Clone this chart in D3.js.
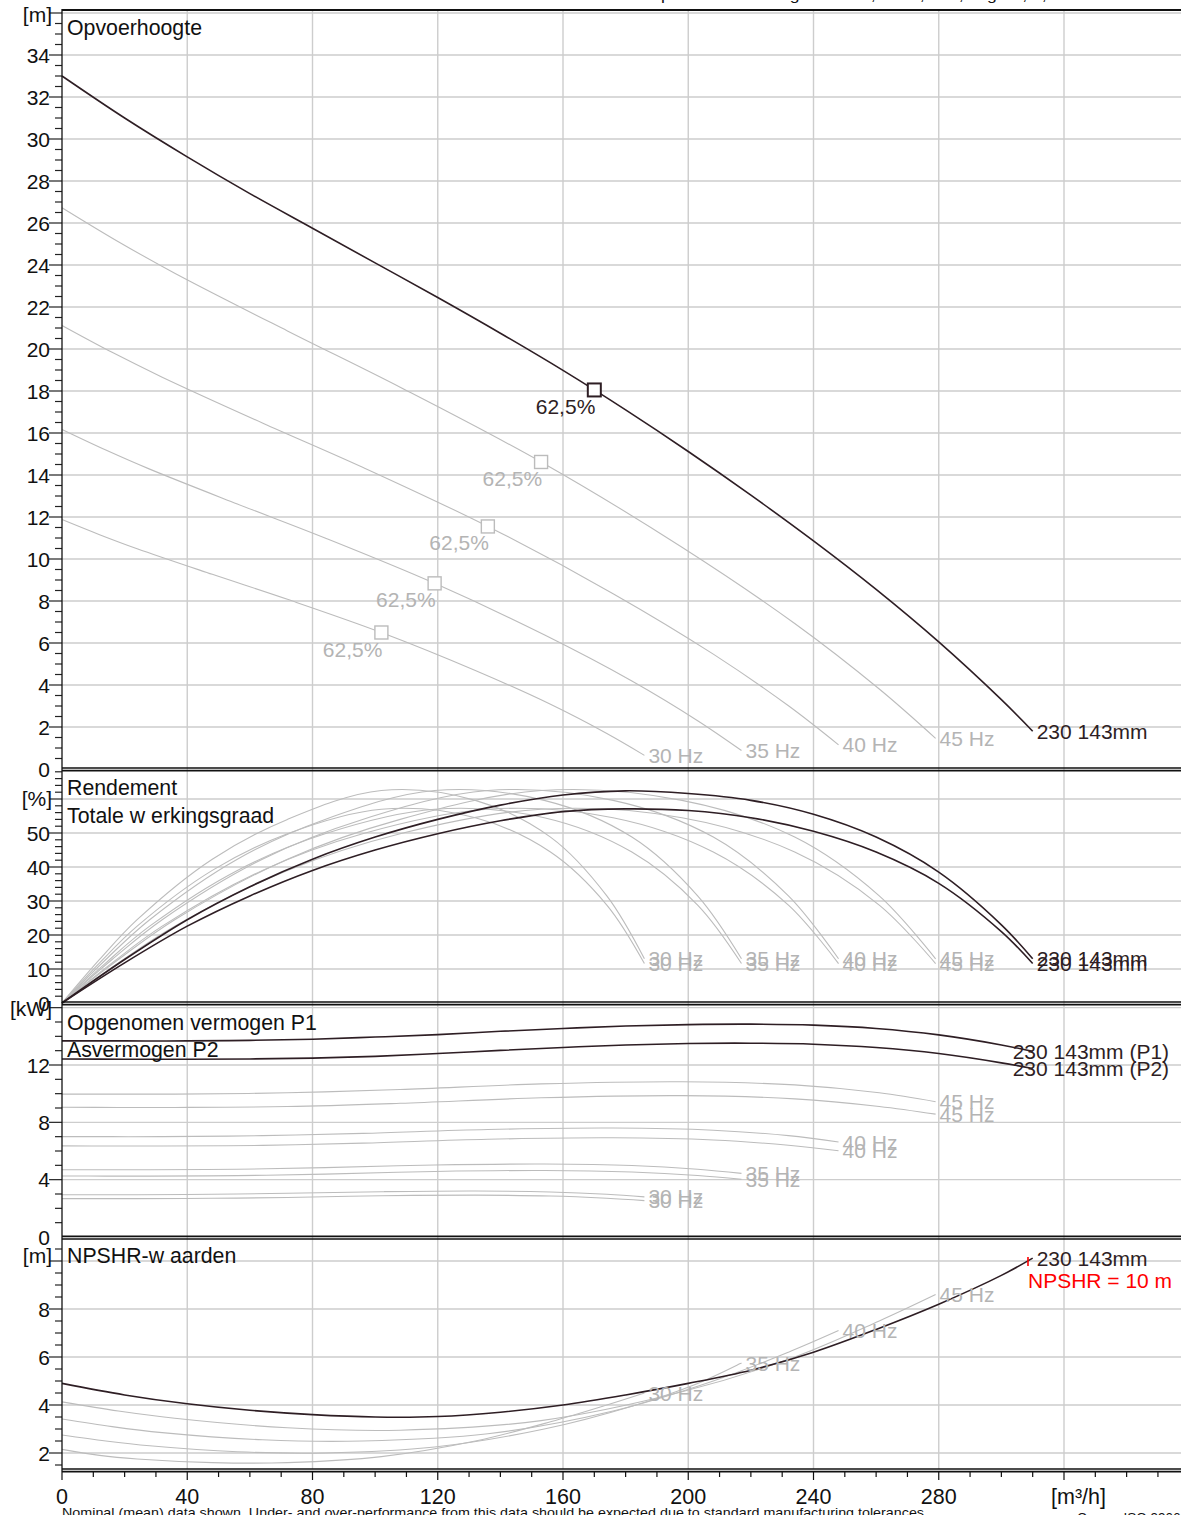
<!DOCTYPE html>
<html><head><meta charset="utf-8">
<script src="https://cdn.jsdelivr.net/npm/d3@7"></script>
<style>
body{margin:0;background:#fff}
svg{display:block}
text{font-family:"Liberation Sans",Arial,Helvetica,sans-serif}
</style>
</head><body>
<svg id="c" width="1181" height="1515"></svg>
<script>
// ---------------- DATA ----------------
const xTickLabels = [0, 40, 80, 120, 160, 200, 240, 280];
const xUnit = "[m³/h]";

// main curve "230 143mm" (50 Hz)
const qMain    = [0, 20, 40, 60, 80, 100, 120, 140, 160, 180, 200, 220, 240, 260, 280, 300, 310];
const headMain = [33.0, 31.0, 29.15, 27.4, 25.75, 24.1, 22.45, 20.75, 18.98, 17.1, 15.12, 13.04, 10.86, 8.55, 6.05, 3.3, 1.8];
const effMain  = [0, 12.8, 24.5, 34.2, 42.3, 48.8, 54.0, 58.2, 61.2, 62.4, 61.6, 59.6, 55.5, 48.8, 38.5, 23.0, 13.0];
const totMain  = [0, 11.8, 22.6, 31.5, 39.0, 45.0, 49.8, 53.6, 56.3, 57.1, 56.6, 54.5, 50.5, 44.4, 35.2, 21.0, 11.6];
const p1Main   = [13.68, 13.68, 13.68, 13.72, 13.8, 13.95, 14.12, 14.35, 14.55, 14.72, 14.82, 14.85, 14.78, 14.55, 14.1, 13.4, 12.95];
const p2Main   = [12.42, 12.4, 12.4, 12.42, 12.48, 12.6, 12.8, 13.02, 13.22, 13.4, 13.5, 13.52, 13.45, 13.22, 12.8, 12.15, 11.75];
const npshMain = [4.9, 4.42, 4.05, 3.78, 3.6, 3.5, 3.52, 3.7, 4.0, 4.42, 4.9, 5.45, 6.2, 7.15, 8.2, 9.4, 10.12];
const bepMain  = [170, 18.05];
const npshrMark = [308.5, 10];

// reduced speed curves
const speedLabels = ["45 Hz", "40 Hz", "35 Hz", "30 Hz"];
const q45 = [0, 18, 36, 72, 108, 153, 198, 234, 261, 279];
const q40 = [0, 16, 32, 64, 96, 136, 176, 208, 232, 248];
const q35 = [0, 14, 28, 56, 84, 119, 154, 182, 203, 217];
const q30 = [0, 12, 24, 48, 72, 102, 132, 156, 174, 186];

const head45 = [26.73, 25.11, 23.61, 20.86, 18.18, 14.62, 10.56, 6.93, 3.81, 1.46];
const head40 = [21.12, 19.84, 18.66, 16.48, 14.37, 11.55, 8.35, 5.47, 3.01, 1.15];
const head35 = [16.17, 15.19, 14.28, 12.62, 11.00, 8.84, 6.39, 4.19, 2.30, 0.88];
const head30 = [11.88, 11.16, 10.49, 9.27, 8.08, 6.50, 4.69, 3.08, 1.69, 0.65];

const eff45 = [0, 12.8, 24.5, 42.3, 54.0, 62.5, 59.6, 48.8, 31.5, 13.0];
const eff40 = [0, 12.8, 24.5, 42.3, 54.0, 62.5, 59.6, 48.8, 31.5, 13.0];
const eff35 = [0, 12.8, 24.5, 42.3, 54.0, 62.5, 59.6, 48.8, 31.5, 13.0];
const eff30 = [0, 12.8, 24.5, 42.3, 54.0, 62.5, 59.6, 48.8, 31.5, 13.0];

const tot45 = [0, 11.8, 22.6, 39.0, 49.8, 57.0, 54.5, 44.4, 28.8, 11.6];
const tot40 = [0, 11.8, 22.6, 39.0, 49.8, 57.0, 54.5, 44.4, 28.8, 11.6];
const tot35 = [0, 11.8, 22.6, 39.0, 49.8, 57.0, 54.5, 44.4, 28.8, 11.6];
const tot30 = [0, 11.8, 22.6, 39.0, 49.8, 57.0, 54.5, 44.4, 28.8, 11.6];

const p1_45 = [9.97, 9.97, 9.97, 10.06, 10.29, 10.68, 10.83, 10.61, 10.06, 9.44];
const p1_40 = [7.00, 7.00, 7.00, 7.07, 7.23, 7.50, 7.60, 7.45, 7.07, 6.63];
const p1_35 = [4.69, 4.69, 4.69, 4.73, 4.84, 5.02, 5.09, 4.99, 4.73, 4.44];
const p1_30 = [2.95, 2.95, 2.95, 2.98, 3.05, 3.16, 3.21, 3.14, 2.98, 2.80];

const p2_45 = [9.05, 9.04, 9.04, 9.10, 9.33, 9.71, 9.86, 9.64, 9.11, 8.57];
const p2_40 = [6.36, 6.35, 6.35, 6.39, 6.55, 6.82, 6.92, 6.77, 6.40, 6.02];
const p2_35 = [4.26, 4.25, 4.25, 4.28, 4.39, 4.57, 4.64, 4.53, 4.29, 4.03];
const p2_30 = [2.68, 2.68, 2.68, 2.70, 2.76, 2.88, 2.92, 2.86, 2.70, 2.54];

const npsh45 = [4.13, 3.75, 3.45, 3.05, 2.95, 3.35, 4.55, 6.0, 7.5, 8.6];
const npsh40 = [3.42, 3.1, 2.85, 2.55, 2.5, 2.8, 3.75, 5.0, 6.2, 7.1];
const npsh35 = [2.75, 2.5, 2.3, 2.05, 2.0, 2.25, 3.0, 3.95, 4.9, 5.75];
const npsh30 = [2.15, 1.9, 1.75, 1.6, 1.6, 1.85, 2.5, 3.3, 4.0, 4.5];

const bep45 = [153, 14.62], bep40 = [136, 11.55], bep35 = [119, 8.84], bep30 = [102, 6.50];

const headTicks = d3.range(0, 35, 2);
const effTicks  = [0, 10, 20, 30, 40, 50];
const powTicks  = [0, 4, 8, 12];
const npshTicks = [2, 4, 6, 8];

// table built from the arrays
const speeds = [
  {label: speedLabels[0], q: q45, head: head45, eff: eff45, tot: tot45, p1: p1_45, p2: p2_45, npsh: npsh45, bep: bep45},
  {label: speedLabels[1], q: q40, head: head40, eff: eff40, tot: tot40, p1: p1_40, p2: p2_40, npsh: npsh40, bep: bep40},
  {label: speedLabels[2], q: q35, head: head35, eff: eff35, tot: tot35, p1: p1_35, p2: p2_35, npsh: npsh35, bep: bep35},
  {label: speedLabels[3], q: q30, head: head30, eff: eff30, tot: tot30, p1: p1_30, p2: p2_30, npsh: npsh30, bep: bep30}
];

// ---------------- LAYOUT ----------------
const W = 1181;
const DARK = "#2e1e24", GRAY = "#bcbcbc", GTEXT = "#b4b4b4", GRID = "#cdcdcd";
const FS = 21;
const svg = d3.select("#c");
const x = d3.scaleLinear().domain([0, 320]).range([62, 1064]);

const panels = [
  {key: "head", y: d3.scaleLinear().domain([0, 34]).range([769, 55]), top: 10, bot: 768, major: 2, minor: 0.5, ticks: headTicks, unit: "[m]", unitY: 22},
  {key: "eff",  y: d3.scaleLinear().domain([0, 50]).range([1003, 833]), top: 770.7, bot: 1002, major: 10, minor: 2, ticks: effTicks, unit: "[%]", unitY: 806},
  {key: "pow",  y: d3.scaleLinear().domain([0, 12]).range([1237, 1065]), top: 1004.7, bot: 1236.3, major: 4, minor: 1, ticks: powTicks, unit: "[kW]", unitY: 1016},
  {key: "npsh", y: d3.scaleLinear().domain([2, 8]).range([1453, 1309]), top: 1239, bot: 1469, major: 2, minor: 0.5, ticks: npshTicks, unit: "[m]", unitY: 1263}
];

const gGrid = svg.append("g");
const gCurves = svg.append("g");
const gFrame = svg.append("g");
const gText = svg.append("g");

// vertical grid
gGrid.selectAll("line.v").data(d3.range(40, 361, 40)).join("line")
  .attr("x1", d => x(d)).attr("x2", d => x(d)).attr("y1", 10).attr("y2", 1469)
  .attr("stroke", GRID).attr("stroke-width", 1.4);

panels.forEach(p => {
  const lo = p.y.invert(p.bot), hi = p.y.invert(p.top);
  const majors = d3.range(Math.ceil(lo / p.major) * p.major, hi + 1e-6, p.major).filter(v => p.y(v) > p.top + 1.5 && p.y(v) < p.bot - 1.5);
  gGrid.selectAll(null).data(majors).join("line")
    .attr("x1", 62).attr("x2", W).attr("y1", d => p.y(d)).attr("y2", d => p.y(d))
    .attr("stroke", GRID).attr("stroke-width", 1.4);
  const minors = d3.range(Math.ceil(lo / p.minor) * p.minor, hi + 1e-6, p.minor).filter(v => p.y(v) >= p.top - 0.5 && p.y(v) <= p.bot + 1);
  gFrame.selectAll(null).data(minors).join("line")
    .attr("x1", d => (Math.abs(d / p.major - Math.round(d / p.major)) < 1e-6) ? 49 : 55).attr("x2", 62)
    .attr("y1", d => p.y(d)).attr("y2", d => p.y(d))
    .attr("stroke", "#222").attr("stroke-width", 1.2);
  gText.selectAll(null).data(p.ticks).join("text")
    .attr("x", 50).attr("y", d => p.y(d)).attr("dy", "0.36em")
    .attr("text-anchor", "end").attr("font-size", FS).attr("fill", "#111").text(d => d);
  gText.append("text").attr("x", 52).attr("y", p.unitY).attr("text-anchor", "end")
    .attr("font-size", FS).attr("fill", "#111").text(p.unit);
});

// panel borders
[10, 768, 770.7, 1002, 1004.7, 1236.3, 1239, 1469, 1471.7].forEach((yy, i) => {
  gFrame.append("line").attr("x1", 62).attr("x2", W).attr("y1", yy).attr("y2", yy)
    .attr("stroke", "#111").attr("stroke-width", i === 0 ? 2.2 : 1.7);
});
gFrame.append("line").attr("x1", 62).attr("x2", 62).attr("y1", 9).attr("y2", 1472)
  .attr("stroke", "#111").attr("stroke-width", 1.3);

// x axis ticks
gFrame.selectAll("line.xt").data(d3.range(0, 360, 10)).join("line")
  .attr("x1", d => x(d)).attr("x2", d => x(d)).attr("y1", 1472).attr("y2", d => d % 40 === 0 ? 1480 : 1477)
  .attr("stroke", "#111").attr("stroke-width", 1.2);
gText.selectAll("text.xl").data(xTickLabels).join("text")
  .attr("x", d => x(d)).attr("y", 1504).attr("text-anchor", "middle")
  .attr("font-size", FS + 0.5).attr("fill", "#111").text(d => d);
gText.append("text").attr("x", 1051).attr("y", 1504).attr("font-size", FS + 0.5).attr("fill", "#111").text(xUnit);

// ---------------- CURVES ----------------
function path(q, v, ys) {
  return d3.line().x((d, i) => x(q[i])).y(d => ys(d)).curve(d3.curveCatmullRom.alpha(0.5))(v);
}
function drawCurve(q, v, ys, color, w) {
  gCurves.append("path").attr("d", path(q, v, ys)).attr("fill", "none")
    .attr("stroke", color).attr("stroke-width", w).attr("stroke-linejoin", "round");
}
function endLabel(q, v, ys, txt, color, dx = 4, dy = 0) {
  const n = q.length - 1;
  gText.append("text").attr("x", x(q[n]) + dx).attr("y", ys(v[n]) + dy).attr("dy", "0.36em")
    .attr("font-size", FS).attr("fill", color).text(txt);
}

const [PH, PE, PP, PN] = panels.map(p => p.y);

speeds.forEach(s => {
  drawCurve(s.q, s.head, PH, GRAY, 1.1);
  drawCurve(s.q, s.eff, PE, GRAY, 1.1);
  drawCurve(s.q, s.tot, PE, GRAY, 1.1);
  drawCurve(s.q, s.p1, PP, GRAY, 1.1);
  drawCurve(s.q, s.p2, PP, GRAY, 1.1);
  drawCurve(s.q, s.npsh, PN, GRAY, 1.1);
});
drawCurve(qMain, headMain, PH, DARK, 1.6);
drawCurve(qMain, effMain, PE, DARK, 1.6);
drawCurve(qMain, totMain, PE, DARK, 1.6);
drawCurve(qMain, p1Main, PP, DARK, 1.6);
drawCurve(qMain, p2Main, PP, DARK, 1.6);
drawCurve(qMain, npshMain, PN, DARK, 1.6);

// BEP markers
speeds.forEach(s => {
  gCurves.append("rect").attr("x", x(s.bep[0]) - 6.5).attr("y", PH(s.bep[1]) - 6.5)
    .attr("width", 13).attr("height", 13).attr("fill", "#fff").attr("stroke", GRAY).attr("stroke-width", 1.4);
  gText.append("text").attr("x", x(s.bep[0]) + 1).attr("y", PH(s.bep[1]) + 24)
    .attr("text-anchor", "end").attr("font-size", FS).attr("fill", GTEXT).text("62,5%");
});
gCurves.append("rect").attr("x", x(bepMain[0]) - 6.5).attr("y", PH(bepMain[1]) - 6.5)
  .attr("width", 13).attr("height", 13).attr("fill", "#fff").attr("stroke", DARK).attr("stroke-width", 2);
gText.append("text").attr("x", x(bepMain[0]) + 1).attr("y", PH(bepMain[1]) + 24)
  .attr("text-anchor", "end").attr("font-size", FS).attr("fill", DARK).text("62,5%");

// end labels
speeds.forEach(s => {
  endLabel(s.q, s.head, PH, s.label, GTEXT);
  endLabel(s.q, s.eff, PE, s.label, GTEXT);
  endLabel(s.q, s.tot, PE, s.label, GTEXT);
  endLabel(s.q, s.p1, PP, s.label, GTEXT);
  endLabel(s.q, s.p2, PP, s.label, GTEXT);
  endLabel(s.q, s.npsh, PN, s.label, GTEXT);
});
endLabel(qMain, headMain, PH, "230 143mm", DARK);
endLabel(qMain, effMain, PE, "230 143mm", DARK);
endLabel(qMain, totMain, PE, "230 143mm", DARK);
endLabel(qMain, p1Main, PP, "230 143mm (P1)", DARK, -20);
endLabel(qMain, p2Main, PP, "230 143mm (P2)", DARK, -20);
endLabel(qMain, npshMain, PN, "230 143mm", DARK);

// NPSHR mark
gCurves.append("line").attr("x1", x(npshrMark[0])).attr("x2", x(npshrMark[0]))
  .attr("y1", PN(npshrMark[1]) - 4).attr("y2", PN(npshrMark[1]) + 5)
  .attr("stroke", "#ff0000").attr("stroke-width", 1.6);
gText.append("text").attr("x", x(npshrMark[0])).attr("y", PN(npshrMark[1]) + 27)
  .attr("font-size", FS).attr("fill", "#ff0000").text("NPSHR = 10 m");

// panel titles
[["Opvoerhoogte", 35], ["Rendement", 795], ["Totale w erkingsgraad", 823],
 ["Opgenomen vermogen P1", 1030], ["Asvermogen P2", 1057], ["NPSHR-w aarden", 1263]].forEach(t => {
  gText.append("text").attr("x", 67).attr("y", t[1]).attr("font-size", FS + 0.3).attr("fill", "#111").text(t[0]);
});

// footnotes
gText.append("text").attr("x", 62).attr("y", 1517).attr("font-size", 13.5).attr("fill", "#111")
  .attr("textLength", 866).attr("lengthAdjust", "spacingAndGlyphs")
  .text("Nominal (mean) data shown. Under- and over-performance from this data should be expected due to standard manufacturing tolerances.");
gText.append("text").attr("x", 1077).attr("y", 1522).attr("font-size", 13.5).attr("fill", "#111")
  .text("Curves ISO 9906:2012");
gText.append("text").attr("x", 625).attr("y", 0).attr("font-size", 14).attr("fill", "#111")
  .attr("textLength", 485).attr("lengthAdjust", "spacingAndGlyphs")
  .text("Pump curve according to: water, 20°C, 998,2 kg/m³, 1,0 mm²/s");
</script>
</body></html>
